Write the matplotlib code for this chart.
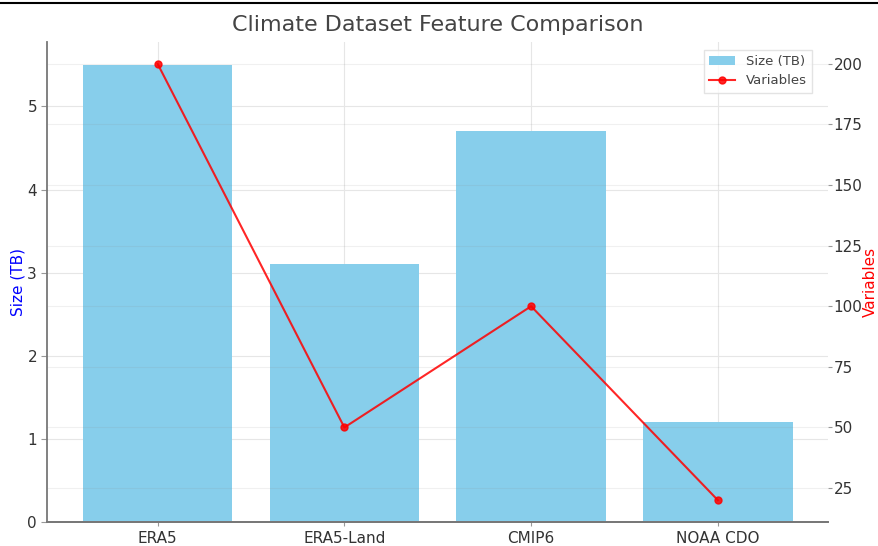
import matplotlib.pyplot as plt
from matplotlib.lines import Line2D

datasets = ["ERA5", "ERA5-Land", "CMIP6", "NOAA CDO"]
size_tb = [5.5, 3.1, 4.7, 1.2]
variables = [200, 50, 100, 20]

fig, ax1 = plt.subplots(figsize=(8.79, 5.46), dpi=100)
fig.subplots_adjust(left=0.054, right=0.942, top=0.923, bottom=0.044)

ax1.bar(datasets, size_tb, color="skyblue", width=0.8, label="Size (TB)")
ax1.set_ylabel("Size (TB)", color="blue", fontsize=11, labelpad=1)
ax1.tick_params(axis="y", labelsize=11, colors="#333333", length=4, color="#999999")
ax1.tick_params(axis="x", labelsize=11, colors="#333333", length=3, color="#999999")
ax1.grid(True, color="#e6e6e6", linewidth=0.8)
ax1.set_axisbelow(True)

ax2 = ax1.twinx()
ax2.plot(datasets, variables, color="red", marker="o", markersize=5,
         linewidth=1.5, alpha=0.85, label="Variables")
ax2.set_ylabel("Variables", color="red", fontsize=11, labelpad=0)
ax2.tick_params(axis="y", labelsize=11, colors="#333333", length=3, pad=1, color="#999999")
ax2.grid(True, color="#888888", alpha=0.12, linewidth=0.8)

for ax in (ax1, ax2):
    ax.spines["top"].set_visible(False)
    ax.spines["right"].set_visible(False)
    ax.spines["left"].set_color("#777777")
    ax.spines["bottom"].set_color("#777777")
    ax.spines["left"].set_linewidth(1.3)
    ax.spines["bottom"].set_linewidth(1.3)
ax2.spines["left"].set_visible(False)

ax1.set_title("Climate Dataset Feature Comparison", fontsize=16, color="#444444", pad=8)

h1, l1 = ax1.get_legend_handles_labels()
h2, l2 = ax2.get_legend_handles_labels()
leg = ax2.legend(h1 + h2, l1 + l2, loc="upper right", fontsize=9.5,
                 frameon=True, fancybox=False, edgecolor="#dddddd",
                 bbox_to_anchor=(0.988, 0.998))
for t in leg.get_texts():
    t.set_color("#444444")

# screenshot table border at top
fig.add_artist(Line2D([0, 1], [0.994, 0.994], color="black", linewidth=1.5, transform=fig.transFigure))

fig.savefig("out.png", dpi=100)
